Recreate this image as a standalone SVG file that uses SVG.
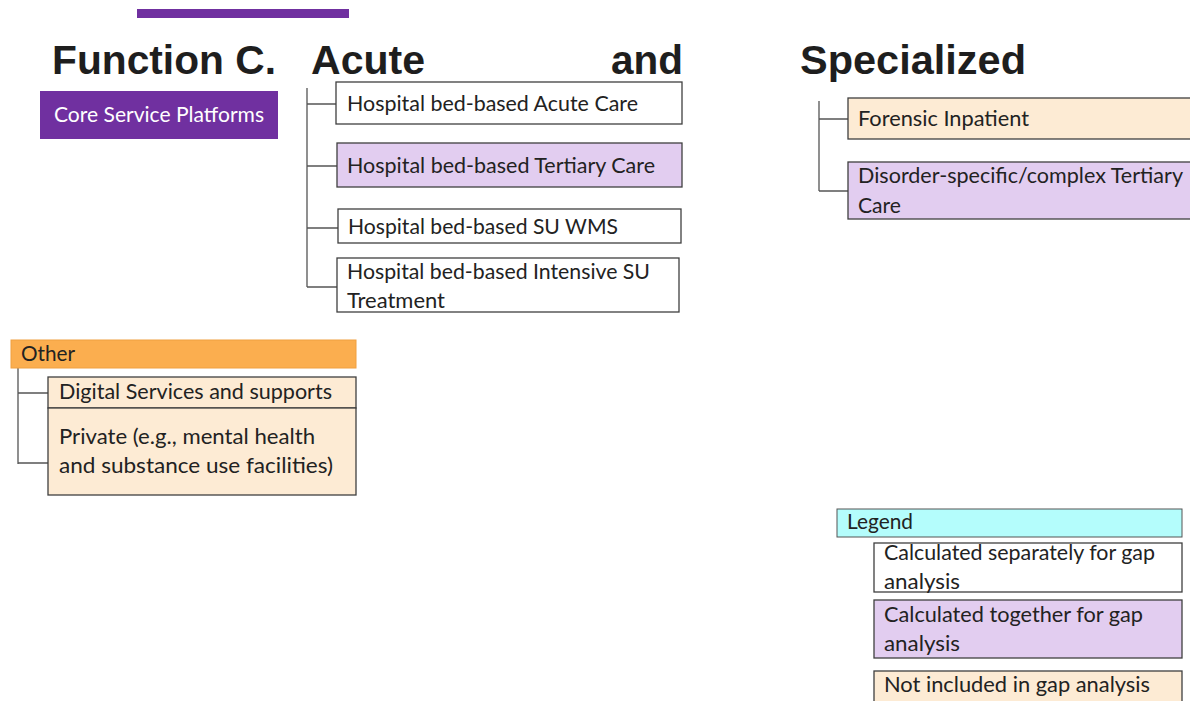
<svg xmlns="http://www.w3.org/2000/svg" width="1190" height="701" viewBox="0 0 1190 701">
<style>
.title{font-family:"Liberation Sans",Arial,sans-serif;font-weight:bold;font-size:41px;fill:#1e1e1e}
.t{font-family:Lato,"Open Sans",sans-serif;font-size:21px;fill:#222222}
.box{stroke:#3f3f3f;stroke-width:1.3}
.white{fill:#ffffff}
.lav{fill:#e2cdf0}
.peach{fill:#fdebd4}
.conn{stroke:#555555;stroke-width:1.3;fill:none}
</style>
<rect x="137" y="9" width="212" height="9" fill="#7030a0"/>
<g id="title">
<text class="title" x="52" y="74" textLength="224" lengthAdjust="spacingAndGlyphs">Function C.</text>
<text class="title" x="311" y="74" textLength="114" lengthAdjust="spacingAndGlyphs">Acute</text>
<text class="title" x="611" y="74" textLength="72" lengthAdjust="spacingAndGlyphs">and</text>
<text class="title" x="800" y="74" textLength="226" lengthAdjust="spacingAndGlyphs">Specialized</text>
</g>
<g id="connectors">
<path class="conn" d="M307 88V287M307 104H336M307 166H337M307 228H338M307 287H337"/>
<path class="conn" d="M819 101V191M819 119H848M819 191H848"/>
<path class="conn" d="M18 368V464M18 393H48M18 463H48"/>
</g>
<g id="core">
<rect x="40" y="91" width="238" height="48" fill="#7030a0"/>
<text class="t" x="54" y="122" style="fill:#ffffff" font-size="20" textLength="210" lengthAdjust="spacingAndGlyphs">Core Service Platforms</text>
</g>
<g id="acute">
<rect class="box white" x="336" y="82" width="346" height="42"/>
<text class="t" x="347" y="111" textLength="291" lengthAdjust="spacingAndGlyphs">Hospital bed-based Acute Care</text>
</g>
<g id="tertiary">
<rect class="box lav" x="337" y="143" width="345" height="44"/>
<text class="t" x="347" y="173" textLength="308" lengthAdjust="spacingAndGlyphs">Hospital bed-based Tertiary Care</text>
</g>
<g id="wms">
<rect class="box white" x="338" y="209" width="343" height="34"/>
<text class="t" x="348" y="234" textLength="270" lengthAdjust="spacingAndGlyphs">Hospital bed-based SU WMS</text>
</g>
<g id="intensive">
<rect class="box white" x="337" y="258" width="342" height="54"/>
<text class="t" x="347" y="279" textLength="303" lengthAdjust="spacingAndGlyphs">Hospital bed-based Intensive SU</text>
<text class="t" x="347" y="308" textLength="98" lengthAdjust="spacingAndGlyphs">Treatment</text>
</g>
<g id="forensic">
<rect class="box peach" x="848" y="98" width="346" height="41"/>
<text class="t" x="858" y="126" textLength="171" lengthAdjust="spacingAndGlyphs">Forensic Inpatient</text>
</g>
<g id="disorder">
<rect class="box lav" x="848" y="162" width="346" height="57"/>
<text class="t" x="858" y="183" textLength="325" lengthAdjust="spacingAndGlyphs">Disorder-specific/complex Tertiary</text>
<text class="t" x="858" y="213" textLength="43" lengthAdjust="spacingAndGlyphs">Care</text>
</g>
<g id="other">
<rect x="11" y="340" width="345" height="28" fill="#fbae4f" stroke="#f0a040" stroke-width="1"/>
<text class="t" x="21" y="361" textLength="54" lengthAdjust="spacingAndGlyphs">Other</text>
</g>
<g id="digital">
<rect class="box peach" x="48" y="377" width="308" height="31"/>
<text class="t" x="59" y="399" textLength="273" lengthAdjust="spacingAndGlyphs">Digital Services and supports</text>
</g>
<g id="private">
<rect class="box peach" x="48" y="408" width="308" height="87"/>
<text class="t" x="59" y="444" textLength="256" lengthAdjust="spacingAndGlyphs">Private (e.g., mental health</text>
<text class="t" x="59" y="473" textLength="274" lengthAdjust="spacingAndGlyphs">and substance use facilities)</text>
</g>
<g id="legend">
<rect x="837" y="509" width="345" height="28" fill="#b4fdfc" stroke="#555555" stroke-width="1"/>
<text class="t" x="847" y="529" textLength="66" lengthAdjust="spacingAndGlyphs">Legend</text>
</g>
<g id="legend-separate">
<rect class="box white" x="874" y="543" width="308" height="49"/>
<text class="t" x="884" y="560" textLength="271" lengthAdjust="spacingAndGlyphs">Calculated separately for gap</text>
<text class="t" x="884" y="589" textLength="76" lengthAdjust="spacingAndGlyphs">analysis</text>
</g>
<g id="legend-together">
<rect class="box lav" x="874" y="600" width="308" height="58"/>
<text class="t" x="884" y="622" textLength="259" lengthAdjust="spacingAndGlyphs">Calculated together for gap</text>
<text class="t" x="884" y="651" textLength="76" lengthAdjust="spacingAndGlyphs">analysis</text>
</g>
<g id="legend-excluded">
<rect class="box peach" x="874" y="671" width="308" height="40"/>
<text class="t" x="884" y="692" textLength="266" lengthAdjust="spacingAndGlyphs">Not included in gap analysis</text>
</g>
</svg>
